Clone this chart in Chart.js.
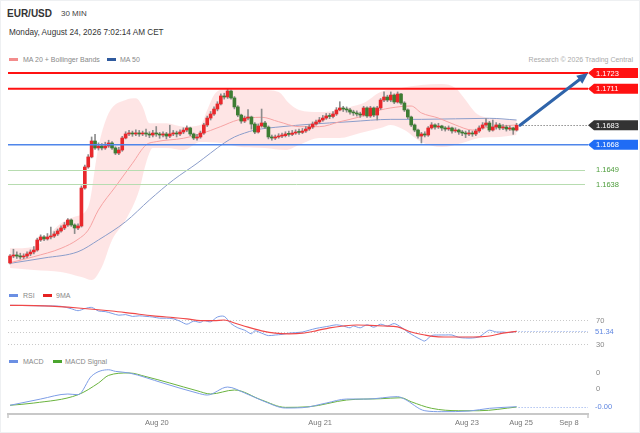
<!DOCTYPE html>
<html><head><meta charset="utf-8">
<script src="https://cdn.jsdelivr.net/npm/chart.js@4.4.0/dist/chart.umd.min.js"></script>
<style>
html,body{margin:0;padding:0;background:#fff;}
body{width:640px;height:433px;position:relative;overflow:hidden;font-family:'Liberation Sans',Arial,sans-serif;}
.frame{position:absolute;left:0;top:0;width:638px;height:431px;border:1px solid #eef0f2;}
.t{position:absolute;white-space:nowrap;line-height:1;}
.sw{position:absolute;width:9px;height:3px;}
canvas{position:absolute;left:0;}
</style></head><body>
<div class="frame"></div>
<div class="t" style="left:7px;top:8.5px;font-size:10px;font-weight:bold;color:#333">EUR/USD</div>
<div class="t" style="left:61px;top:10.2px;font-size:8px;color:#444">30 MIN</div>
<div class="t" style="left:9px;top:29px;font-size:8.2px;color:#333">Monday, August 24, 2026 7:02:14 AM CET</div>
<div class="sw" style="left:9px;top:57.5px;background:#f38c8c"></div>
<div class="t" style="left:23px;top:55.6px;font-size:7px;color:#888">MA 20 + Bollinger Bands</div>
<div class="sw" style="left:107px;top:57.5px;background:#2f5a9e"></div>
<div class="t" style="left:120px;top:55.6px;font-size:7px;color:#888">MA 50</div>
<div class="t" style="right:7px;top:55.6px;font-size:7px;color:#aaa">Research © 2026 Trading Central</div>
<div class="sw" style="left:9px;top:294px;background:#6b8fe3"></div>
<div class="t" style="left:23px;top:292px;font-size:7px;color:#888">RSI</div>
<div class="sw" style="left:43px;top:294px;background:#e52222"></div>
<div class="t" style="left:56px;top:292px;font-size:7px;color:#888">9MA</div>
<div class="sw" style="left:9px;top:360px;background:#6b8fe3"></div>
<div class="t" style="left:23px;top:358px;font-size:7px;color:#888">MACD</div>
<div class="sw" style="left:53px;top:360px;background:#4aa52e"></div>
<div class="t" style="left:65px;top:358px;font-size:7px;color:#888">MACD Signal</div>
<canvas id="main" width="640" height="225" style="top:60px"></canvas>
<canvas id="rsi" width="640" height="48" style="top:302px"></canvas>
<canvas id="macd" width="640" height="70" style="top:362px"></canvas>
<script>
// ---------- candles (30 min) ----------
const opens = [1.15775,1.15828,1.15836,1.15828,1.15821,1.15828,1.15844,1.15859,1.15874,1.15951,
1.15974,1.15959,1.15974,1.15981,1.15997,1.16020,1.16043,1.16066,1.16104,1.16066,
1.16043,1.16058,1.16349,1.16510,1.16587,1.16709,1.16656,1.16671,1.16656,1.16671,
1.16694,1.16656,1.16617,1.16640,1.16732,1.16763,1.16770,1.16763,1.16770,1.16763,
1.16770,1.16763,1.16755,1.16770,1.16763,1.16755,1.16763,1.16747,1.16763,1.16770,
1.16763,1.16778,1.16793,1.16809,1.16763,1.16732,1.16740,1.16770,1.16832,1.16885,
1.16916,1.16954,1.16993,1.17054,1.17046,1.17092,1.17039,1.16970,1.16908,1.16862,
1.16885,1.16893,1.16839,1.16778,1.16824,1.16847,1.16816,1.16740,1.16732,1.16740,
1.16747,1.16750,1.16763,1.16760,1.16770,1.16778,1.16775,1.16786,1.16801,1.16816,
1.16839,1.16855,1.16870,1.16885,1.16901,1.16897,1.16916,1.16947,1.16962,1.16954,
1.16947,1.16931,1.16924,1.16916,1.16908,1.16962,1.16901,1.16962,1.16908,1.16962,
1.17023,1.17046,1.17023,1.17061,1.17008,1.17069,1.17000,1.16947,1.16893,1.16832,
1.16793,1.16747,1.16763,1.16755,1.16809,1.16832,1.16816,1.16824,1.16809,1.16801,
1.16809,1.16786,1.16793,1.16778,1.16770,1.16763,1.16770,1.16763,1.16786,1.16809,
1.16832,1.16847,1.16793,1.16816,1.16832,1.16809,1.16816,1.16801,1.16809,1.16793];
const highs = [1.15840,1.15880,1.15860,1.15850,1.15845,1.15860,1.15875,1.15900,1.15965,1.15990,
1.15985,1.16000,1.16050,1.16015,1.16035,1.16060,1.16085,1.16115,1.16112,1.16075,
1.16075,1.16365,1.16525,1.16605,1.16740,1.16760,1.16695,1.16690,1.16700,1.16715,
1.16705,1.16665,1.16660,1.16745,1.16780,1.16790,1.16785,1.16795,1.16790,1.16785,
1.16800,1.16780,1.16790,1.16820,1.16775,1.16780,1.16775,1.16830,1.16790,1.16785,
1.16795,1.16810,1.16825,1.16815,1.16770,1.16760,1.16785,1.16845,1.16900,1.16935,
1.16970,1.17010,1.17070,1.17075,1.17107,1.17100,1.17050,1.16980,1.16915,1.16900,
1.16950,1.16900,1.16850,1.16840,1.16954,1.16860,1.16825,1.16755,1.16755,1.16765,
1.16770,1.16780,1.16785,1.16790,1.16795,1.16800,1.16805,1.16820,1.16835,1.16855,
1.16870,1.16890,1.16905,1.16920,1.16920,1.16935,1.16965,1.17010,1.16975,1.16970,
1.16960,1.16945,1.16940,1.16930,1.16975,1.16970,1.16975,1.16970,1.16975,1.17035,
1.17085,1.17060,1.17085,1.17070,1.17085,1.17075,1.17010,1.16955,1.16900,1.16840,
1.16800,1.16775,1.16780,1.16820,1.16850,1.16840,1.16845,1.16830,1.16820,1.16825,
1.16815,1.16810,1.16800,1.16790,1.16785,1.16790,1.16785,1.16800,1.16825,1.16850,
1.16880,1.16860,1.16870,1.16850,1.16845,1.16835,1.16830,1.16825,1.16815,1.16845];
const lows = [1.15768,1.15815,1.15810,1.15805,1.15808,1.15815,1.15830,1.15845,1.15865,1.15940,
1.15945,1.15950,1.15960,1.15970,1.15985,1.16010,1.16030,1.16055,1.16055,1.16000,
1.16030,1.16050,1.16340,1.16500,1.16580,1.16645,1.16640,1.16640,1.16645,1.16660,
1.16645,1.16605,1.16605,1.16630,1.16725,1.16750,1.16745,1.16750,1.16745,1.16750,
1.16745,1.16735,1.16740,1.16745,1.16730,1.16740,1.16725,1.16735,1.16750,1.16740,
1.16750,1.16765,1.16780,1.16750,1.16720,1.16715,1.16730,1.16760,1.16820,1.16870,
1.16905,1.16940,1.16985,1.17030,1.17035,1.17030,1.16955,1.16895,1.16845,1.16850,
1.16870,1.16800,1.16765,1.16770,1.16815,1.16805,1.16725,1.16715,1.16720,1.16730,
1.16735,1.16740,1.16745,1.16750,1.16760,1.16760,1.16765,1.16775,1.16790,1.16805,
1.16830,1.16845,1.16860,1.16875,1.16880,1.16885,1.16905,1.16940,1.16935,1.16930,
1.16915,1.16905,1.16900,1.16890,1.16900,1.16890,1.16890,1.16895,1.16870,1.16950,
1.17010,1.17010,1.17010,1.16995,1.17000,1.16990,1.16935,1.16880,1.16820,1.16780,
1.16730,1.16694,1.16740,1.16745,1.16800,1.16800,1.16805,1.16790,1.16785,1.16790,
1.16770,1.16775,1.16760,1.16750,1.16735,1.16750,1.16745,1.16750,1.16775,1.16800,
1.16820,1.16780,1.16785,1.16800,1.16795,1.16795,1.16785,1.16790,1.16760,1.16785];
const closes = [1.15828,1.15836,1.15828,1.15821,1.15828,1.15844,1.15859,1.15874,1.15951,1.15974,
1.15959,1.15974,1.15981,1.15997,1.16020,1.16043,1.16066,1.16104,1.16066,1.16043,
1.16058,1.16349,1.16510,1.16587,1.16709,1.16656,1.16671,1.16656,1.16671,1.16694,
1.16656,1.16617,1.16640,1.16732,1.16763,1.16770,1.16763,1.16770,1.16763,1.16770,
1.16763,1.16755,1.16770,1.16763,1.16755,1.16763,1.16747,1.16763,1.16770,1.16763,
1.16778,1.16793,1.16809,1.16763,1.16732,1.16740,1.16770,1.16832,1.16885,1.16916,
1.16954,1.16993,1.17054,1.17046,1.17092,1.17039,1.16970,1.16908,1.16862,1.16885,
1.16893,1.16839,1.16778,1.16824,1.16847,1.16816,1.16740,1.16732,1.16740,1.16747,
1.16750,1.16763,1.16760,1.16770,1.16778,1.16775,1.16786,1.16801,1.16816,1.16839,
1.16855,1.16870,1.16885,1.16901,1.16897,1.16916,1.16947,1.16962,1.16954,1.16947,
1.16931,1.16924,1.16916,1.16908,1.16962,1.16901,1.16962,1.16908,1.16962,1.17023,
1.17046,1.17023,1.17061,1.17008,1.17069,1.17000,1.16947,1.16893,1.16832,1.16793,
1.16747,1.16763,1.16755,1.16809,1.16832,1.16816,1.16824,1.16809,1.16801,1.16809,
1.16786,1.16793,1.16778,1.16770,1.16763,1.16770,1.16763,1.16786,1.16809,1.16832,
1.16847,1.16793,1.16816,1.16832,1.16809,1.16816,1.16801,1.16809,1.16793,1.16830];

// ---------- overlays (candle index, value) ----------
const ma20Idx = [0,7,15,20,23,26,31,36,40,43,51,56,62,67,74,79,85,91,97,103,109,115,118,121,126,131,136,141,149];
const ma20Vals = [1.15777,1.15823,1.15887,1.15956,1.16027,1.16181,1.16359,1.16538,1.16679,1.16704,1.16730,1.16763,1.16820,1.16870,1.16891,1.16857,1.16819,1.16819,1.16857,1.16895,1.16947,1.16973,1.16977,1.16924,1.16885,1.16832,1.16793,1.16816,1.16832];
const ma50Idx = [0,10,20,26,34,41,48,55,59,63,66,69,72,80,88,100,112,121,141,149];
const ma50Vals = [1.15772,1.15813,1.15861,1.15951,1.16091,1.16257,1.16410,1.16538,1.16617,1.16694,1.16740,1.16770,1.16793,1.16819,1.16837,1.16857,1.16875,1.16875,1.16883,1.16870];
const bbUpIdx = [0,7,15,19,23,26,29,34,37,39,41,46,51,56,58,60,62,68,74,79,82,85,91,97,100,104,109,115,121,127,131,134,137,141,149];
const bbUpVals = [1.15887,1.15900,1.16079,1.16129,1.16206,1.16666,1.16921,1.17023,1.17036,1.16972,1.16845,1.16845,1.16819,1.16832,1.16947,1.17062,1.17100,1.17100,1.17100,1.17085,1.17000,1.16947,1.16931,1.16947,1.16970,1.17000,1.17085,1.17115,1.17138,1.17146,1.17115,1.17023,1.16924,1.16885,1.16870];
const bbLoIdx = [0,7,15,21,24,27,30,34,38,40,42,46,51,56,62,68,75,81,85,91,97,103,109,112,116,121,127,133,138,144,149];
const bbLoVals = [1.15736,1.15721,1.15706,1.15667,1.15644,1.15744,1.15951,1.16104,1.16334,1.16541,1.16656,1.16656,1.16640,1.16701,1.16694,1.16663,1.16656,1.16640,1.16679,1.16732,1.16732,1.16770,1.16809,1.16832,1.16793,1.16701,1.16663,1.16694,1.16732,1.16740,1.16755];

// ---------- key levels ----------
const levelValues = [1.1723, 1.1711, 1.1683, 1.1668, 1.1649, 1.1638];
const levelKinds = ['resistance','resistance','last','support','minor','minor'];
const arrowFrom = [150, 1.1683];
const arrowTo = [170, 1.1723];

// ---------- RSI ----------
const rsiIdx = [0,5,10,15,18,20,22,24,26,28,30,32,34,36,38,40,42,44,46,48,50,52,54,56,57,59,61,63,65,67,69,71,72,74,76,78,80,82,84,86,88,90,92,94,96,98,100,101,103,105,107,109,111,113,115,117,119,121,122,124,126,128,130,132,134,136,138,140,141,143,145,147,149];
const rsiVals = [94.5,94,93.5,92.8,88.8,85.5,89,91,85,84,81,78,79,76,77,76,75,73,73,72,68,63,68,66,69,67,75,76,64,57,53,47,52,48,44,45,46,48,49,50,53,56,58,60,62,60,57,60,57,62,58,63,60,64,58,50,43,37,35,44,45,45,45,41,40,40,42,50,53,50,50,49,51.34];
const ma9Idx = [0,10,20,30,36,42,48,52,56,60,63,66,70,74,78,82,86,90,94,98,102,106,110,114,118,122,126,130,134,138,141,145,149];
const ma9Vals = [94.5,93.5,90,85,81,77,74,72,69,69,70,65,58,52,48,47,48,52,57,60,61.7,61,60,58.5,50,45,42,41.7,41.7,42,43.3,48,51];
const rsiGuides = [70, 50, 30];
const rsiTickLabels = ['70', '30'];
const rsiTickValues = [70, 30];

// ---------- MACD ----------
const macdIdx = [0,9,17,20,24,29,31,35,45,55,58,64,69,75,81,86,93,99,105,114,116,122,127,135,141,149];
const macdVals = [-0.00008,0.00031,0.000625,0.00058,0.00175,0.00214,0.00204,0.00194,0.00131,0.00069,0.00056,0.00106,0.00069,0.00014,-0.00025,-0.00023,0.00006,0.00031,0.00031,0.00046,0.00031,-0.00042,-0.00048,-0.00044,-0.00027,-0.00017];
const sigIdx = [0,7,20,26,29,35,40,47,55,59,66,74,81,88,99,109,115,118,124,132,138,149];
const sigVals = [-0.00008,0.00006,0.00058,0.00131,0.00179,0.00194,0.00171,0.00131,0.00083,0.000625,0.000875,0.00025,-0.00021,-0.00017,0.00025,0.00033,0.00039,0.00014,-0.00027,-0.00042,-0.00042,-0.00019];
const macdTickValues = [0.002, 0.001];
const macdTickLabels = ['0', '0'];

// ---------- time axis ----------
const tickPos = [43.2, 91.2, 134.4, 150.3, 164.4];
const tickLabels = ['Aug 20', 'Aug 21', 'Aug 23', 'Aug 25', 'Sep 8'];

// ================= rendering =================
Chart.defaults.font.family = "'Liberation Sans', Arial, sans-serif";
const X_MIN = -0.6, X_MAX = 170;
const PAD = {left: 8, right: 52, top: 0, bottom: 0};
const LABEL_FONT = "7.5px 'Liberation Sans', Arial, sans-serif";
const pts = (ix, vs) => ix.map((x, k) => ({x, y: vs[k]}));
const lastIdx = closes.length - 1;

function hline(ctx, x0, x1, y, color, w, dash) {
  ctx.save();
  ctx.strokeStyle = color; ctx.lineWidth = w; ctx.setLineDash(dash || []);
  ctx.beginPath(); ctx.moveTo(x0, y); ctx.lineTo(x1, y); ctx.stroke();
  ctx.restore();
}
function tag(ctx, xL, yC, color, text) {
  const h = 10, w = 50;
  ctx.save();
  ctx.fillStyle = color;
  ctx.beginPath();
  ctx.moveTo(xL, yC); ctx.lineTo(xL + 6, yC - h / 2); ctx.lineTo(xL + w, yC - h / 2);
  ctx.lineTo(xL + w, yC + h / 2); ctx.lineTo(xL + 6, yC + h / 2); ctx.closePath(); ctx.fill();
  ctx.fillStyle = '#fff'; ctx.font = LABEL_FONT; ctx.textBaseline = 'middle'; ctx.textAlign = 'left';
  ctx.fillText(text, xL + 8, yC + 0.5);
  ctx.restore();
}
function label(ctx, x, y, color, text) {
  ctx.save();
  ctx.fillStyle = color; ctx.font = LABEL_FONT; ctx.textBaseline = 'middle'; ctx.textAlign = 'left';
  ctx.fillText(text, x, y + 0.5);
  ctx.restore();
}

const levelStyle = {
  resistance: {line: '#ff1111', w: 2, tag: '#ff1111'},
  last: {line: '#555', w: 1, tag: '#333333'},
  support: {line: '#4f86ea', w: 1.5, tag: '#1f6cf5'},
  minor: {line: '#b7dcb0', w: 1, text: '#4c9c3a'}
};

const mainDeco = {
  id: 'mainDeco',
  afterDatasetsDraw(chart) {
    const {ctx, chartArea: a, scales: {x, y}} = chart;
    levelValues.forEach((v, k) => {
      const st = levelStyle[levelKinds[k]];
      const py = y.getPixelForValue(v);
      if (levelKinds[k] === 'last') {
        hline(ctx, x.getPixelForValue(lastIdx) + 3, a.right, Math.round(py) + 0.5, st.line, 1, [1, 2]);
        tag(ctx, a.right, py, st.tag, v.toFixed(4));
      } else if (levelKinds[k] === 'minor') {
        hline(ctx, a.left, a.right - 3, Math.round(py) + 0.5, st.line, st.w);
        label(ctx, a.right + 8, py, st.text, v.toFixed(4));
      } else {
        hline(ctx, a.left, a.right, py, st.line, st.w);
        tag(ctx, a.right, py, st.tag, v.toFixed(4));
      }
    });
    // projection arrow
    const x0 = x.getPixelForValue(arrowFrom[0]), y0 = y.getPixelForValue(arrowFrom[1]);
    const x1 = x.getPixelForValue(arrowTo[0]), y1 = y.getPixelForValue(arrowTo[1]);
    const ang = Math.atan2(y1 - y0, x1 - x0), L = 11, W = 5;
    const bx = x1 - L * Math.cos(ang), by = y1 - L * Math.sin(ang);
    ctx.save();
    ctx.strokeStyle = '#2f64aa'; ctx.fillStyle = '#2f64aa'; ctx.lineWidth = 3; ctx.lineCap = 'round';
    ctx.beginPath(); ctx.moveTo(x0, y0); ctx.lineTo(bx, by); ctx.stroke();
    ctx.beginPath(); ctx.moveTo(x1, y1);
    ctx.lineTo(bx + W * Math.sin(ang), by - W * Math.cos(ang));
    ctx.lineTo(bx - W * Math.sin(ang), by + W * Math.cos(ang));
    ctx.closePath(); ctx.fill();
    ctx.restore();
  }
};

const rsiDeco = {
  id: 'rsiDeco',
  beforeDatasetsDraw(chart) {
    const {ctx, chartArea: a, scales: {y}} = chart;
    rsiGuides.forEach(v => hline(ctx, a.left, a.right, Math.round(y.getPixelForValue(v)) + 0.5, '#c9c9c9', 1, [1, 2]));
  },
  afterDatasetsDraw(chart) {
    const {ctx, chartArea: a, scales: {x, y}} = chart;
    const last = rsiVals[rsiVals.length - 1];
    const ly = y.getPixelForValue(last);
    hline(ctx, x.getPixelForValue(rsiIdx[rsiIdx.length - 1]) + 2, a.right, Math.round(ly) + 0.5, '#8aa6ea', 1, [1, 2]);
    rsiTickValues.forEach((v, k) => label(ctx, a.right + 8, y.getPixelForValue(v), '#888', rsiTickLabels[k]));
    label(ctx, a.right + 7, ly, '#5f86e0', last.toFixed(2));
  }
};

const macdDeco = {
  id: 'macdDeco',
  afterDatasetsDraw(chart) {
    const {ctx, chartArea: a, scales: {x, y}} = chart;
    const last = macdVals[macdVals.length - 1];
    const ly = y.getPixelForValue(last);
    hline(ctx, x.getPixelForValue(macdIdx[macdIdx.length - 1]) + 2, a.right, Math.round(ly) + 0.5, '#8aa6ea', 1, [1, 2]);
    macdTickValues.forEach((v, k) => label(ctx, a.right + 8, y.getPixelForValue(v), '#888', macdTickLabels[k]));
    label(ctx, a.right + 7, ly, '#5f86e0', last.toFixed(2));
  },
  afterDraw(chart) {
    const {ctx, chartArea: a} = chart;
    ctx.save(); ctx.strokeStyle = '#c8c8c8'; ctx.lineWidth = 1.5;
    [a.left, a.right].forEach(px => { ctx.beginPath(); ctx.moveTo(px, a.bottom); ctx.lineTo(px, a.bottom + 4); ctx.stroke(); });
    ctx.restore();
  }
};

function baseOptions(yMin, yMax, xAxis) {
  return {
    responsive: false, animation: false, events: [],
    layout: {padding: PAD},
    plugins: {legend: {display: false}, tooltip: {enabled: false}},
    scales: {
      x: xAxis || {type: 'linear', min: X_MIN, max: X_MAX, offset: false, display: false},
      y: {min: yMin, max: yMax, display: false}
    }
  };
}
const lineDs = (label, data, color, width, extra) => Object.assign({
  type: 'line', label, data, borderColor: color, borderWidth: width, pointRadius: 0,
  fill: false, cubicInterpolationMode: 'monotone'
}, extra || {});

// main price chart
new Chart(document.getElementById('main'), {
  type: 'bar',
  data: {datasets: [
    lineDs('BB upper', pts(bbUpIdx, bbUpVals), 'rgba(0,0,0,0)', 0, {fill: '+1', backgroundColor: 'rgba(252,175,175,0.32)', order: 10}),
    lineDs('BB lower', pts(bbLoIdx, bbLoVals), 'rgba(0,0,0,0)', 0, {order: 11}),
    lineDs('MA 50', pts(ma50Idx, ma50Vals), '#8b9dca', 1, {order: 6}),
    lineDs('MA 20', pts(ma20Idx, ma20Vals), '#f6a3a3', 1, {order: 5}),
    {label: 'wick', data: closes.map((c, i) => ({x: i, y: [lows[i], highs[i]]})),
     backgroundColor: '#8c8c8c', barThickness: 1, grouped: false, order: 2},
    {label: 'body', data: closes.map((c, i) => ({x: i, y: [opens[i], c]})),
     backgroundColor: closes.map((c, i) => c >= opens[i] ? '#e8282c' : '#3d7d33'),
     barThickness: 3, minBarLength: 1, grouped: false, order: 1}
  ]},
  options: baseOptions(1.156061, 1.173296),
  plugins: [mainDeco]
});

// RSI
new Chart(document.getElementById('rsi'), {
  type: 'line',
  data: {datasets: [
    lineDs('9MA', pts(ma9Idx, ma9Vals), '#f04848', 1.2),
    lineDs('RSI', pts(rsiIdx, rsiVals), '#7d9de6', 1, {cubicInterpolationMode: 'default', tension: 0.3})
  ]},
  options: baseOptions(20, 100),
  plugins: [rsiDeco]
});

// MACD with time axis
new Chart(document.getElementById('macd'), {
  type: 'line',
  data: {datasets: [
    lineDs('MACD', pts(macdIdx, macdVals), '#7d9de6', 1),
    lineDs('MACD Signal', pts(sigIdx, sigVals), '#6ab33e', 1)
  ]},
  options: baseOptions(-0.000625, 0.002625, {
    type: 'linear', min: X_MIN, max: X_MAX, offset: false,
    grid: {display: false, drawTicks: false, tickLength: 0},
    border: {display: true, color: '#c8c8c8', width: 2},
    afterBuildTicks: s => { s.ticks = tickPos.map(v => ({value: v})); },
    afterFit: s => { s.height = 18; },
    ticks: {autoSkip: false, maxRotation: 0, minRotation: 0, padding: 4, color: '#777',
      font: {size: 7.5}, callback: (v, i) => tickLabels[i]}
  }),
  plugins: [macdDeco]
});
</script>
</body></html>
